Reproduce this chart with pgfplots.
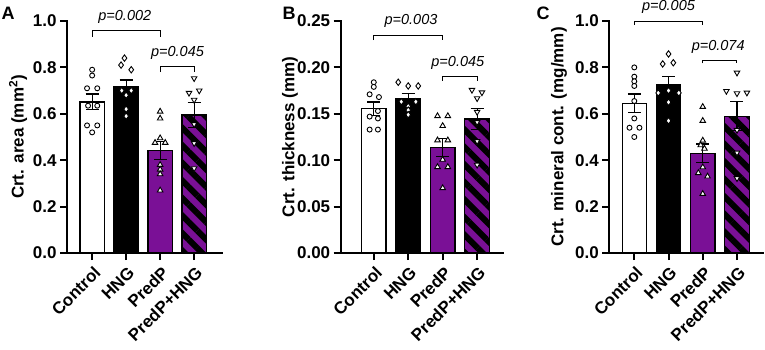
\documentclass[border=0pt]{standalone}
\usepackage{fontspec}
\setmainfont{Liberation Sans}
\usepackage{pgfplots}
\pgfplotsset{compat=1.18}
\usetikzlibrary{patterns.meta}
\definecolor{pp}{RGB}{122,16,150}

\tikzset{
  pval/.style={font=\fontsize{14.5}{14.5}\selectfont\itshape},
  brk/.style={line width=1pt, black},
}
\pgfplotsset{
  gp/.style={
    scale only axis,
    axis x line*=bottom, axis y line*=left,
    axis line style={line width=2pt, line cap=rect},
    ymin=0,
    xtick={0,1,2,3}, xticklabels={Control,HNG,PredP,PredP+HNG},
    tick align=outside, major tick length=7pt,
    major tick style={line width=2pt, black},
    tick label style={font=\fontsize{17}{17}\selectfont\bfseries},
    /pgf/number format/assume math mode=true,
    xticklabel style={xshift=6pt, yshift=-9pt, rotate=45, anchor=east, inner sep=1pt},
    clip=false,
    ylabel style={font=\fontsize{17}{17}\selectfont\bfseries, anchor=center},
  },
  gbar/.style={ybar, bar width=0.71, bar shift=0pt, draw=black, line width=1.2pt,
    error bars/y dir=both, error bars/y explicit,
    error bars/error mark=|,
    error bars/error bar style={line width=1.2pt, draw=black},
    error bars/error mark options={line width=1.2pt, draw=black, mark size=6.5pt}},
  ptC/.style={only marks, mark=*, mark size=2.5pt, mark options={fill=white, draw=black, line width=0.9pt}},
  ptH/.style={only marks, mark=diamond*, mark size=3.2pt, mark options={fill=white, draw=black, line width=0.9pt}},
  ptP/.style={only marks, mark=triangle*, mark size=3.2pt, mark options={fill=white, draw=black, line width=0.9pt}},
  ptQ/.style={only marks, mark=triangle*, mark size=3.2pt, mark options={fill=white, draw=black, line width=0.9pt, rotate=180}},
  stripes/.style={preaction={fill=pp}, pattern={Lines[angle=-45,distance=12.4pt,line width=6pt]}, pattern color=black},
}

\begin{document}
\begin{tikzpicture}
\path[use as bounding box] (0,0) rectangle (765pt,349pt);

\node[font=\fontsize{18}{18}\selectfont\bfseries] at (8pt,336pt) {A};
\node[font=\fontsize{18}{18}\selectfont\bfseries] at (289pt,336pt) {B};
\node[font=\fontsize{18}{18}\selectfont\bfseries] at (543pt,336pt) {C};

% ---------------- Panel A ----------------
\begin{axis}[gp, at={(67pt,96pt)}, anchor=south west, width=155pt, height=232pt,
  xmin=-0.74, xmax=3.82, ymax=1.0, ytick={0,0.2,0.4,0.6,0.8,1.0},
  yticklabel style={/pgf/number format/.cd, fixed, fixed zerofill, precision=1},
  ylabel={Crt. area (mm\textsuperscript{2})},
  ylabel style={at={(axis description cs:-0.316,0.5)}}]
\addplot[gbar, fill=white] table[x=x, y=y, y error=e, row sep=\\] {x y e\\ 0 0.651 0.034\\};
\addplot[gbar, fill=black] table[x=x, y=y, y error=e, row sep=\\] {x y e\\ 1 0.716 0.030\\};
\addplot[gbar, fill=pp] table[x=x, y=y, y error=e, row sep=\\] {x y e\\ 2 0.441 0.039\\};
\addplot[gbar, stripes] table[x=x, y=y, y error=e, row sep=\\] {x y e\\ 3 0.595 0.054\\};
\addplot[ptC] coordinates {(0,0.79) (0,0.765) (-0.15,0.71) (0.15,0.71) (-0.12,0.635) (0.15,0.635) (-0.15,0.55) (0.15,0.55) (0,0.52)};
\addplot[ptH] coordinates {(0.95,0.84) (0.85,0.81) (1.15,0.79) (0.87,0.70) (1.15,0.70) (1,0.68) (1,0.62) (1,0.59)};
\addplot[ptP] coordinates {(2,0.61) (2,0.58) (2,0.495) (1.85,0.475) (2.15,0.475) (2,0.38) (2,0.36) (2,0.34) (2,0.27)};
\addplot[ptQ] coordinates {(3,0.753) (2.85,0.69) (3.15,0.70) (3,0.66) (3,0.555) (3,0.473) (3,0.365)};
\draw[brk] (axis cs:0,0.932) -- (axis cs:0,0.957) -- (axis cs:2,0.957) -- (axis cs:2,0.932);
\node[pval] at (axis cs:0.96,1.017) {p=0.002};
\draw[brk] (axis cs:2,0.78) -- (axis cs:2,0.804) -- (axis cs:3,0.804) -- (axis cs:3,0.78);
\node[pval] at (axis cs:2.51,0.862) {p=0.045};
\end{axis}

% ---------------- Panel B ----------------
\begin{axis}[gp, at={(340.7pt,96pt)}, anchor=south west, width=162.6pt, height=232pt,
  xmin=-0.96, xmax=3.76, ymax=0.25, ytick={0,0.05,0.10,0.15,0.20,0.25},
  yticklabel style={/pgf/number format/.cd, fixed, fixed zerofill, precision=2},
  ylabel={Crt. thickness (mm)},
  ylabel style={at={(axis description cs:-0.312,0.5)}}]
\addplot[gbar, fill=white] table[x=x, y=y, y error=e, row sep=\\] {x y e\\ 0 0.1555 0.0072\\};
\addplot[gbar, fill=black] table[x=x, y=y, y error=e, row sep=\\] {x y e\\ 1 0.1665 0.0052\\};
\addplot[gbar, fill=pp] table[x=x, y=y, y error=e, row sep=\\] {x y e\\ 2 0.1135 0.0097\\};
\addplot[gbar, stripes] table[x=x, y=y, y error=e, row sep=\\] {x y e\\ 3 0.1445 0.0112\\};
\addplot[ptC] coordinates {(0,0.184) (0,0.179) (-0.12,0.171) (0.15,0.168) (0.12,0.153) (-0.12,0.147) (0.12,0.145) (-0.12,0.133) (0.12,0.133)};
\addplot[ptH] coordinates {(0.71,0.184) (1,0.180) (1.29,0.180) (0.8,0.163) (1.22,0.163) (1,0.158) (1,0.154) (1,0.149)};
\addplot[ptP] coordinates {(1.85,0.1476) (2.15,0.1476) (2,0.137) (1.85,0.1215) (2.15,0.1215) (2,0.1006) (1.85,0.0927) (2.15,0.0927) (2,0.070)};
\addplot[ptQ] coordinates {(2.85,0.1757) (3.14,0.173) (3,0.1667) (3,0.152) (3,0.141) (3,0.1205) (3,0.095)};
\draw[brk] (axis cs:0,0.2295) -- (axis cs:0,0.234) -- (axis cs:2,0.234) -- (axis cs:2,0.2295);
\node[pval] at (axis cs:1.08,0.25) {p=0.003};
\draw[brk] (axis cs:2,0.1855) -- (axis cs:2,0.19) -- (axis cs:3,0.19) -- (axis cs:3,0.1855);
\node[pval] at (axis cs:2.44,0.205) {p=0.045};
\end{axis}

% ---------------- Panel C ----------------
\begin{axis}[gp, at={(609.3pt,96pt)}, anchor=south west, width=153.7pt, height=232pt,
  xmin=-0.73, xmax=3.76, ymax=1.0, ytick={0,0.2,0.4,0.6,0.8,1.0},
  yticklabel style={/pgf/number format/.cd, fixed, fixed zerofill, precision=1},
  ylabel={Crt. mineral cont. (mg/mm)},
  ylabel style={at={(axis description cs:-0.327,0.5)}}]
\addplot[gbar, fill=white] table[x=x, y=y, y error=e, row sep=\\] {x y e\\ 0 0.646 0.039\\};
\addplot[gbar, fill=black] table[x=x, y=y, y error=e, row sep=\\] {x y e\\ 1 0.726 0.034\\};
\addplot[gbar, fill=pp] table[x=x, y=y, y error=e, row sep=\\] {x y e\\ 2 0.430 0.040\\};
\addplot[gbar, stripes] table[x=x, y=y, y error=e, row sep=\\] {x y e\\ 3 0.590 0.063\\};
\addplot[ptC] coordinates {(0,0.80) (0,0.76) (0,0.74) (0,0.72) (0,0.655) (0,0.58) (-0.14,0.54) (0.15,0.54) (0,0.50)};
\addplot[ptH] coordinates {(1,0.858) (0.83,0.815) (1.14,0.82) (0.7,0.69) (1,0.70) (1.3,0.69) (1,0.65) (1,0.57)};
\addplot[ptP] coordinates {(2,0.63) (2,0.57) (2,0.485) (1.94,0.465) (2.05,0.45) (2,0.37) (1.87,0.345) (2.14,0.33) (2,0.255)};
\addplot[ptQ] coordinates {(3,0.777) (2.69,0.698) (3,0.688) (3.29,0.691) (3,0.53) (3,0.432) (3,0.322)};
\draw[brk] (axis cs:0,0.983) -- (axis cs:0,0.997) -- (axis cs:2,0.997) -- (axis cs:2,0.983);
\node[pval] at (axis cs:1.0,1.059) {p=0.005};
\draw[brk] (axis cs:2,0.817) -- (axis cs:2,0.828) -- (axis cs:3,0.828) -- (axis cs:3,0.817);
\node[pval] at (axis cs:2.45,0.889) {p=0.074};
\end{axis}
\end{tikzpicture}
\end{document}
